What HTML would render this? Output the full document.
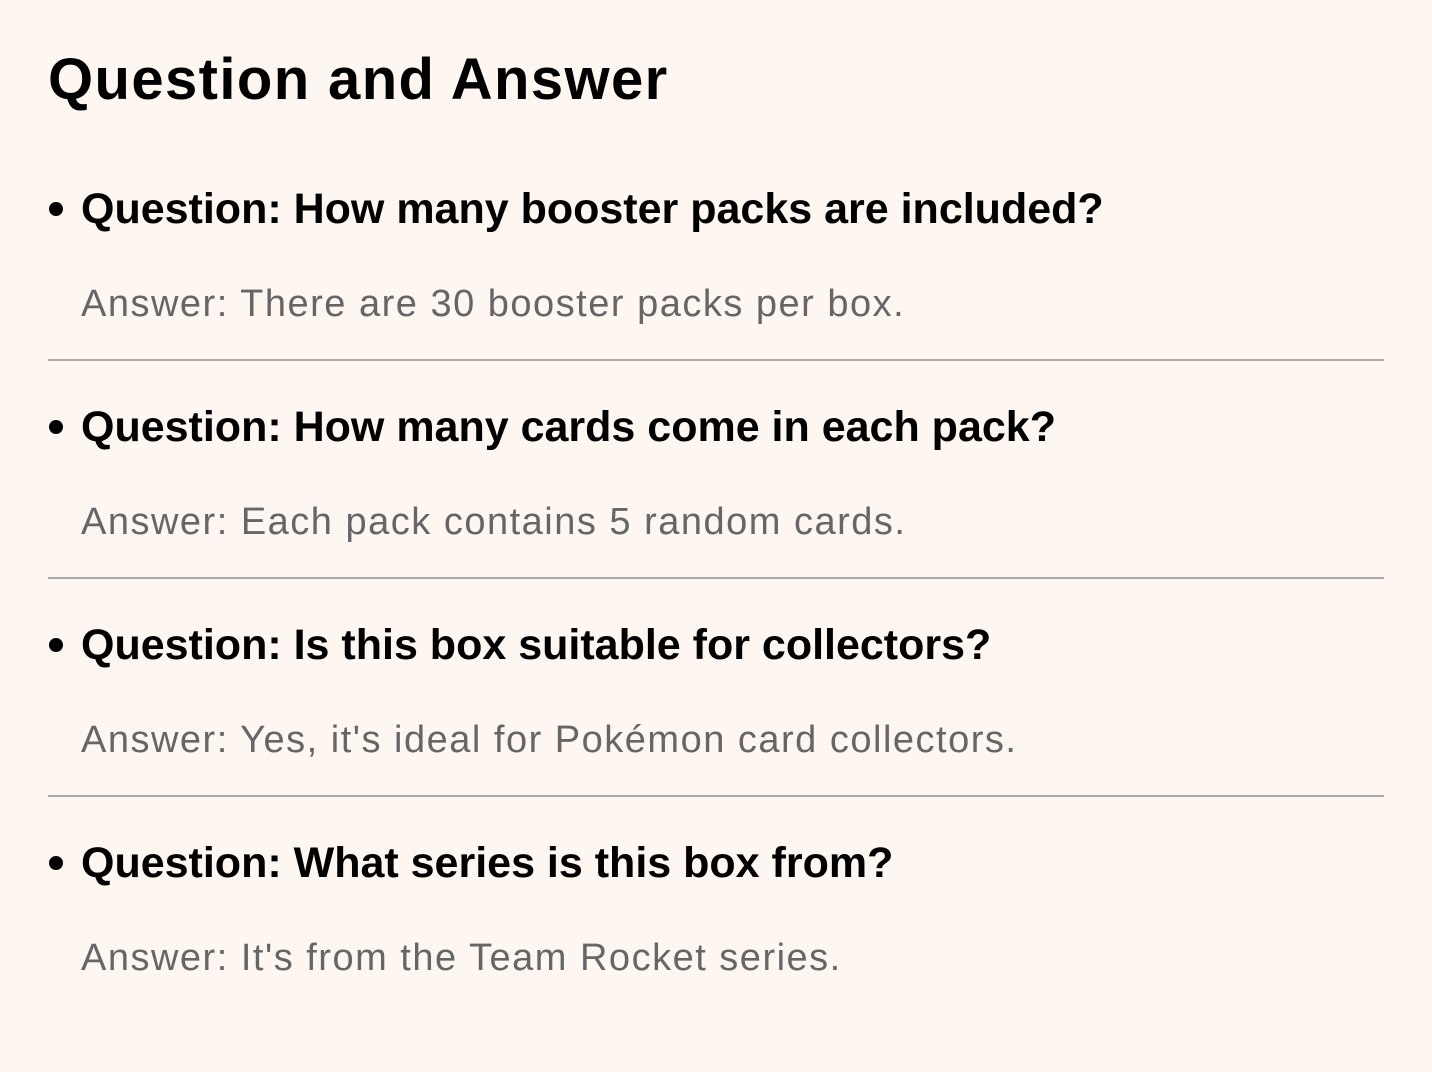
<!DOCTYPE html>
<html><head><meta charset="utf-8"><style>
html,body{margin:0;padding:0}
body{width:1432px;height:1072px;background:#fdf6f1;position:relative;font-family:"Liberation Sans",sans-serif;overflow:hidden}
.t{position:absolute;left:48px;top:45px;font-size:58px;font-weight:bold;color:#000;line-height:70px;white-space:nowrap;letter-spacing:1.4px}
.q{position:absolute;left:81px;font-size:43px;font-weight:bold;color:#000;letter-spacing:0px;line-height:50px;white-space:nowrap}
.b{position:absolute;left:49px;width:14px;height:14px;border-radius:50%;background:#000}
.a{position:absolute;left:81px;font-size:38px;color:#666;line-height:46px;white-space:nowrap;letter-spacing:1.5px}
.r{position:absolute;left:48px;width:1336px;height:2px;background:#aaa}
</style></head><body>
<div class="t">Question and Answer</div>

<div class="b" style="top:202px"></div>
<div class="q" style="top:184px">Question: How many booster packs are included?</div>
<div class="a" style="top:281px">Answer: There are 30 booster packs per box.</div>
<div class="r" style="top:359px"></div>

<div class="b" style="top:420px"></div>
<div class="q" style="top:402px">Question: How many cards come in each pack?</div>
<div class="a" style="top:499px">Answer: Each pack contains 5 random cards.</div>
<div class="r" style="top:577px"></div>

<div class="b" style="top:638px"></div>
<div class="q" style="top:620px">Question: Is this box suitable for collectors?</div>
<div class="a" style="top:717px">Answer: Yes, it's ideal for Pokémon card collectors.</div>
<div class="r" style="top:795px"></div>

<div class="b" style="top:856px"></div>
<div class="q" style="top:838px">Question: What series is this box from?</div>
<div class="a" style="top:935px">Answer: It's from the Team Rocket series.</div>
</body></html>
